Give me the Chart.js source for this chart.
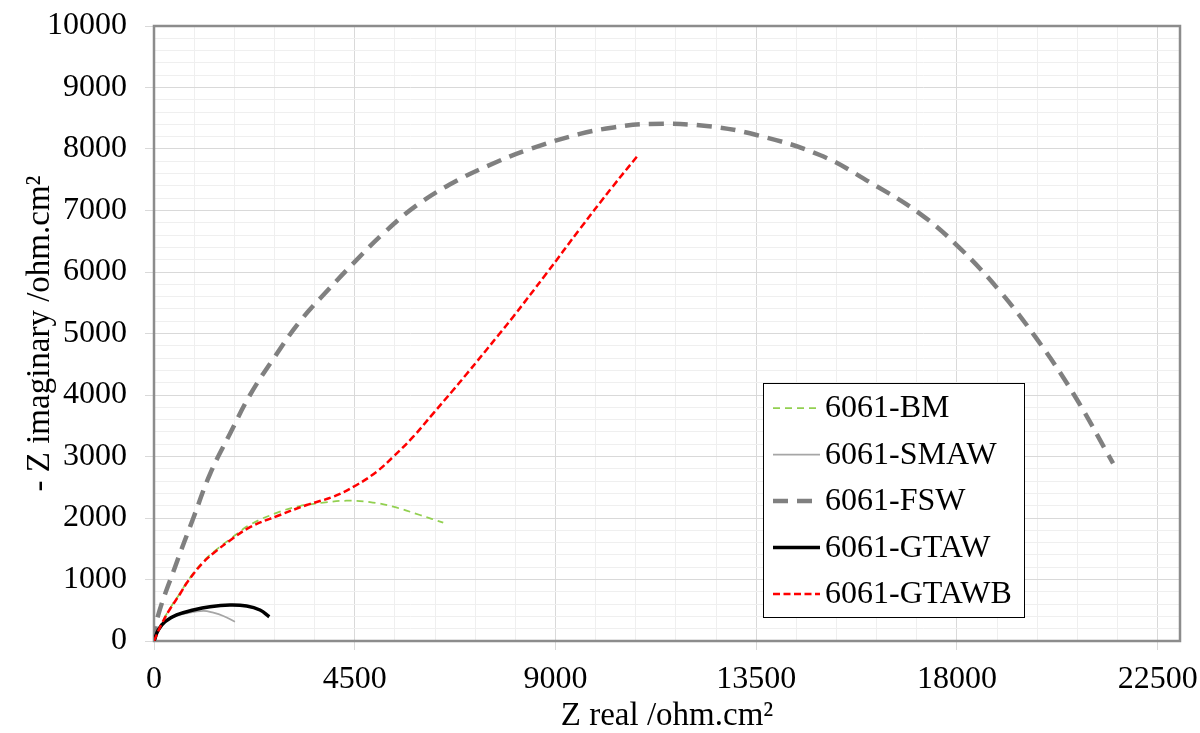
<!DOCTYPE html>
<html>
<head>
<meta charset="utf-8">
<script src="https://cdn.jsdelivr.net/npm/chart.js@4.4.1/dist/chart.umd.min.js"></script>
<style>
  html, body { margin: 0; padding: 0; background: #fff; }
  #wrap { width: 1200px; height: 733px; }
</style>
</head>
<body>
<div id="wrap"><canvas id="nyquist" width="1200" height="733"></canvas></div>
<script>
// Z real / -Z imaginary readings (ohm.cm2), one pair of arrays per sample
const bmRe = [0, 172, 359, 583, 769, 1106, 1405, 1703, 2152, 2824, 3272, 3795, 4318, 4841, 5364, 5961, 6484];
const bmIm = [0, 288, 531, 775, 992, 1295, 1490, 1655, 1890, 2103, 2195, 2249, 2281, 2260, 2184, 2049, 1924];

const smawRe = [0, 80, 220, 450, 750, 1106, 1330, 1554, 1815];
const smawIm = [0, 150, 290, 395, 455, 490, 460, 407, 314];

const fswRe = [0, 74, 470, 882, 1255, 1703, 2152, 2712, 3272, 3944, 4467, 5140, 5887, 6784, 7718, 8427, 9547, 10300, 11116, 12386, 13507, 14926, 16046, 17167, 18063, 18960, 19782, 20604, 21500];
const fswIm = [0, 372, 1200, 2000, 2714, 3371, 4000, 4628, 5198, 5741, 6141, 6626, 7083, 7483, 7800, 8000, 8245, 8350, 8407, 8374, 8228, 7902, 7460, 6950, 6390, 5690, 4920, 4028, 2889];

const gtawRe = [0, 97, 247, 508, 882, 1255, 1703, 2077, 2376, 2585];
const gtawIm = [0, 179, 314, 423, 504, 558, 585, 569, 504, 395];

const gtawbRe = [0, 172, 359, 583, 769, 1106, 1405, 1703, 2152, 2824, 3422, 4019, 4543, 4991, 5364, 5812, 6261, 6708, 7008, 7718, 8053, 8801, 9547, 10294, 10855];
const gtawbIm = [0, 280, 520, 765, 980, 1280, 1470, 1635, 1850, 2049, 2211, 2347, 2537, 2753, 2997, 3322, 3702, 4081, 4341, 4971, 5273, 5979, 6700, 7400, 7902];

const xTickLabels = [0, 4500, 9000, 13500, 18000, 22500];
const yTickLabels = [0, 1000, 2000, 3000, 4000, 5000, 6000, 7000, 8000, 9000, 10000];
const xMinorStep = 900;
const yMinorStep = 200;

function pts(xs, ys) {
    return xs.map((x, i) => ({ x: x, y: ys[i] }));
}

function withMinor(majors, step) {
    const out = [];
    for (let v = majors[0]; v <= majors[majors.length - 1]; v += step) {
        out.push({ value: v, major: majors.includes(v) });
    }
    return out;
}

// keep the plot area where the layout padding puts it
function noOverflow(s) {
    s.paddingLeft = 0;
    s.paddingRight = 0;
    s.paddingTop = 0;
    s.paddingBottom = 0;
}

const serif = 'Liberation Serif, Times New Roman, serif';
Chart.defaults.font.family = serif;
Chart.defaults.color = '#000';

// frame round the plot area
const frame = {
    id: 'frame',
    beforeDatasetsDraw(chart) {
        const a = chart.chartArea;
        const ctx = chart.ctx;
        ctx.save();
        ctx.strokeStyle = '#8c8c8c';
        ctx.lineWidth = 2.5;
        ctx.strokeRect(a.left, a.top, a.right - a.left, a.bottom - a.top);
        ctx.restore();
    }
};

// boxed legend inside the plot, like the spreadsheet one
const boxLegend = {
    id: 'boxLegend',
    afterDraw(chart) {
        const ctx = chart.ctx;
        const left = 763, top = 383, w = 261, h = 234;
        ctx.save();
        ctx.fillStyle = '#fff';
        ctx.fillRect(left, top, w, h);
        ctx.strokeStyle = '#000';
        ctx.lineWidth = 1;
        ctx.strokeRect(left + 0.5, top + 0.5, w, h);
        ctx.font = '32px ' + serif;
        ctx.textBaseline = 'middle';
        ctx.fillStyle = '#000';
        chart.data.datasets.forEach((ds, i) => {
            const y = top + 25 + i * 46.5;
            ctx.beginPath();
            ctx.strokeStyle = ds.borderColor;
            ctx.lineWidth = ds.borderWidth;
            ctx.setLineDash(ds.borderDash || []);
            ctx.moveTo(left + 10, y);
            ctx.lineTo(left + 57, y);
            ctx.stroke();
            ctx.setLineDash([]);
            ctx.fillText(ds.label, left + 62, y + 1);
        });
        ctx.restore();
    }
};

const ctx = document.getElementById('nyquist').getContext('2d');

const chart = new Chart(ctx, {
    type: 'scatter',
    data: {
        datasets: [
            {
                label: '6061-BM',
                data: pts(bmRe, bmIm),
                borderColor: '#92d050',
                borderWidth: 1.75,
                borderDash: [7, 5],
                order: 5
            },
            {
                label: '6061-SMAW',
                data: pts(smawRe, smawIm),
                borderColor: '#a6a6a6',
                borderWidth: 1.75,
                order: 4
            },
            {
                label: '6061-FSW',
                data: pts(fswRe, fswIm),
                borderColor: '#808080',
                borderWidth: 4.5,
                borderDash: [15, 9],
                order: 3
            },
            {
                label: '6061-GTAW',
                data: pts(gtawRe, gtawIm),
                borderColor: '#000000',
                borderWidth: 3.5,
                order: 2
            },
            {
                label: '6061-GTAWB',
                data: pts(gtawbRe, gtawbIm),
                borderColor: '#ff0000',
                borderWidth: 2.5,
                borderDash: [7, 3.5],
                order: 1
            }
        ]
    },
    options: {
        responsive: false,
        animation: false,
        devicePixelRatio: 1,
        showLine: true,
        elements: {
            point: { radius: 0, hoverRadius: 0 },
            line: { tension: 0.4, fill: false }
        },
        layout: {
            padding: { left: 0, top: 26, right: 20, bottom: 0 }
        },
        plugins: {
            legend: { display: false },
            tooltip: { enabled: false }
        },
        scales: {
            x: {
                type: 'linear',
                min: 0,
                max: 23000,
                afterBuildTicks: s => { s.ticks = withMinor(xTickLabels, xMinorStep); },
                afterFit: s => { s.height = 92; noOverflow(s); },
                ticks: {
                    autoSkip: false,
                    maxRotation: 0,
                    padding: 10,
                    font: { size: 32 },
                    color: '#000',
                    callback: v => (xTickLabels.includes(v) ? String(v) : '')
                },
                grid: {
                    color: c => (c.tick && c.tick.major ? '#d9d9d9' : '#efefef'),
                    tickColor: c => (c.tick && c.tick.major ? '#d9d9d9' : 'rgba(0,0,0,0)'),
                    tickLength: 9,
                    lineWidth: 1
                },
                border: { display: false },
                title: {
                    display: true,
                    text: 'Z real /ohm.cm²',
                    color: '#000',
                    font: { size: 33, lineHeight: 1 },
                    padding: 0
                }
            },
            y: {
                min: 0,
                max: 10000,
                afterBuildTicks: s => { s.ticks = withMinor(yTickLabels, yMinorStep); },
                afterFit: s => { s.width = 154; noOverflow(s); },
                ticks: {
                    autoSkip: false,
                    padding: 18,
                    font: { size: 32 },
                    color: '#000',
                    callback: v => (yTickLabels.includes(v) ? String(v) : '')
                },
                grid: {
                    color: c => (c.tick && c.tick.major ? '#d9d9d9' : '#efefef'),
                    tickColor: c => (c.tick && c.tick.major ? '#d9d9d9' : 'rgba(0,0,0,0)'),
                    tickLength: 9,
                    lineWidth: 1
                },
                border: { display: false },
                title: {
                    display: true,
                    text: '- Z imaginary /ohm.cm²',
                    color: '#000',
                    font: { size: 33, lineHeight: 1 },
                    padding: { top: 24, bottom: 0 }
                }
            }
        }
    },
    plugins: [frame, boxLegend]
});
</script>
</body>
</html>
